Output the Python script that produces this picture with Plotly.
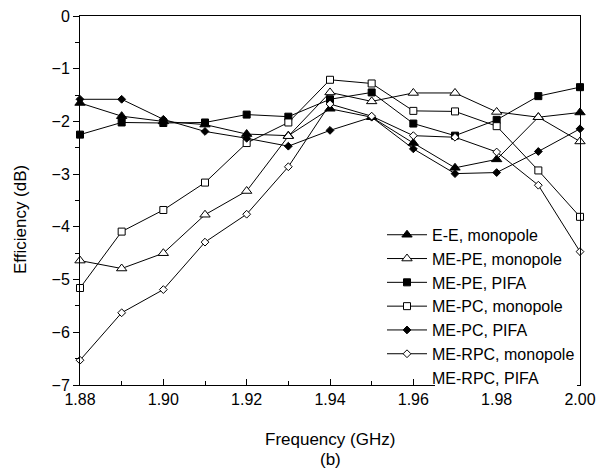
"""Antenna efficiency versus frequency, six feed/antenna combinations."""

import plotly.graph_objects as go

freq = [1.88, 1.89, 1.90, 1.91, 1.92, 1.93, 1.94, 1.95, 1.96, 1.97, 1.98, 1.99, 2.00]

ee_monopole = [-1.65, -1.90, -2.00, -2.06, -2.24, -2.27, -1.76, -1.92, -2.41, -2.88, -2.72, -1.92, -1.83]
mepe_monopole = [-4.64, -4.79, -4.50, -3.77, -3.32, -2.28, -1.45, -1.62, -1.46, -1.46, -1.82, -1.92, -2.38]
mepe_pifa = [-2.25, -2.02, -2.03, -2.02, -1.87, -1.91, -1.58, -1.45, -2.04, -2.27, -1.97, -1.52, -1.35]
mepc_monopole = [-5.16, -4.09, -3.68, -3.16, -2.41, -2.02, -1.21, -1.28, -1.80, -1.81, -2.09, -2.93, -3.81]
mepc_pifa = [-1.58, -1.58, -1.96, -2.19, -2.32, -2.47, -2.17, -1.92, -2.52, -2.99, -2.97, -2.57, -2.14]
merpc_monopole = [-6.53, -5.63, -5.19, -4.29, -3.76, -2.86, -1.67, -1.90, -2.27, -2.30, -2.58, -3.21, -4.47]

series = [
    ("E-E, monopole", ee_monopole, "triangle-up", 9, "black"),
    ("ME-PE, monopole", mepe_monopole, "triangle-up", 9, "white"),
    ("ME-PE, PIFA", mepe_pifa, "square", 7, "black"),
    ("ME-PC, monopole", mepc_monopole, "square", 7, "white"),
    ("ME-PC, PIFA", mepc_pifa, "diamond", 6, "black"),
    ("ME-RPC, monopole", merpc_monopole, "diamond", 6, "white"),
]

FONT = "Liberation Sans, Arial, sans-serif"

fig = go.Figure()
for name, values, symbol, size, fill in series:
    fig.add_trace(
        go.Scatter(
            x=freq,
            y=values,
            name=name,
            mode="lines+markers",
            line=dict(color="black", width=1),
            marker=dict(symbol=symbol, size=size, color=fill, line=dict(color="black", width=1)),
            cliponaxis=False,
        )
    )

# seventh legend entry has no visible curve in the figure
fig.add_trace(
    go.Scatter(x=[None], y=[None], name="ME-RPC, PIFA", mode="lines", line=dict(color="rgba(0,0,0,0)", width=1))
)

axis_common = dict(
    showline=True,
    linecolor="black",
    linewidth=1,
    mirror=True,
    showgrid=False,
    zeroline=False,
    automargin=False,
    tickcolor="black",
    tickfont=dict(family=FONT, size=16, color="black"),
)

fig.update_xaxes(
    range=[1.88, 2.00],
    tickvals=[1.88, 1.90, 1.92, 1.94, 1.96, 1.98, 2.00],
    ticktext=["1.88", "1.90", "1.92", "1.94", "1.96", "1.98", "2.00"],
    ticks="inside",
    ticklen=6,
    minor=dict(dtick=0.01, ticks="inside", ticklen=4, tickcolor="black"),
    **axis_common,
)
fig.update_yaxes(
    range=[-7, 0],
    dtick=1,
    ticks="outside",
    ticklen=6,
    minor=dict(dtick=0.5, ticks="outside", ticklen=4, tickcolor="black"),
    **axis_common,
)

title_font = dict(family=FONT, size=17, color="black")
fig.add_annotation(text="Efficiency (dB)", x=-0.12, y=0.447, xref="paper", yref="paper",
                   xanchor="center", yanchor="middle", textangle=-90, showarrow=False, font=title_font)
fig.add_annotation(text="Frequency (GHz)", x=0.5, y=-0.149, xref="paper", yref="paper",
                   xanchor="center", yanchor="middle", showarrow=False, font=title_font)
fig.add_annotation(text="(b)", x=0.5, y=-0.203, xref="paper", yref="paper",
                   xanchor="center", yanchor="middle", showarrow=False, font=title_font)

# the last legend label blanks out the x axis under it, as in the original
fig.add_shape(type="rect", xref="paper", yref="paper", x0=0.71, x1=0.994, y0=-0.016, y1=0.016,
              fillcolor="white", line=dict(width=0), layer="above")

fig.update_layout(
    width=596,
    height=472,
    margin=dict(l=80, r=16, t=16, b=87),
    plot_bgcolor="white",
    paper_bgcolor="white",
    font=dict(family=FONT, size=16, color="black"),
    legend=dict(
        x=0.604,
        y=0.453,
        xanchor="left",
        yanchor="top",
        bgcolor="rgba(255,255,255,0)",
        borderwidth=0,
        itemwidth=40,
        tracegroupgap=0,
        font=dict(family=FONT, size=16, color="black"),
    ),
    showlegend=True,
)

fig.write_html(
    "out.html",
    config={"displayModeBar": False},
    post_script="document.body.style.margin = '0';",
)
